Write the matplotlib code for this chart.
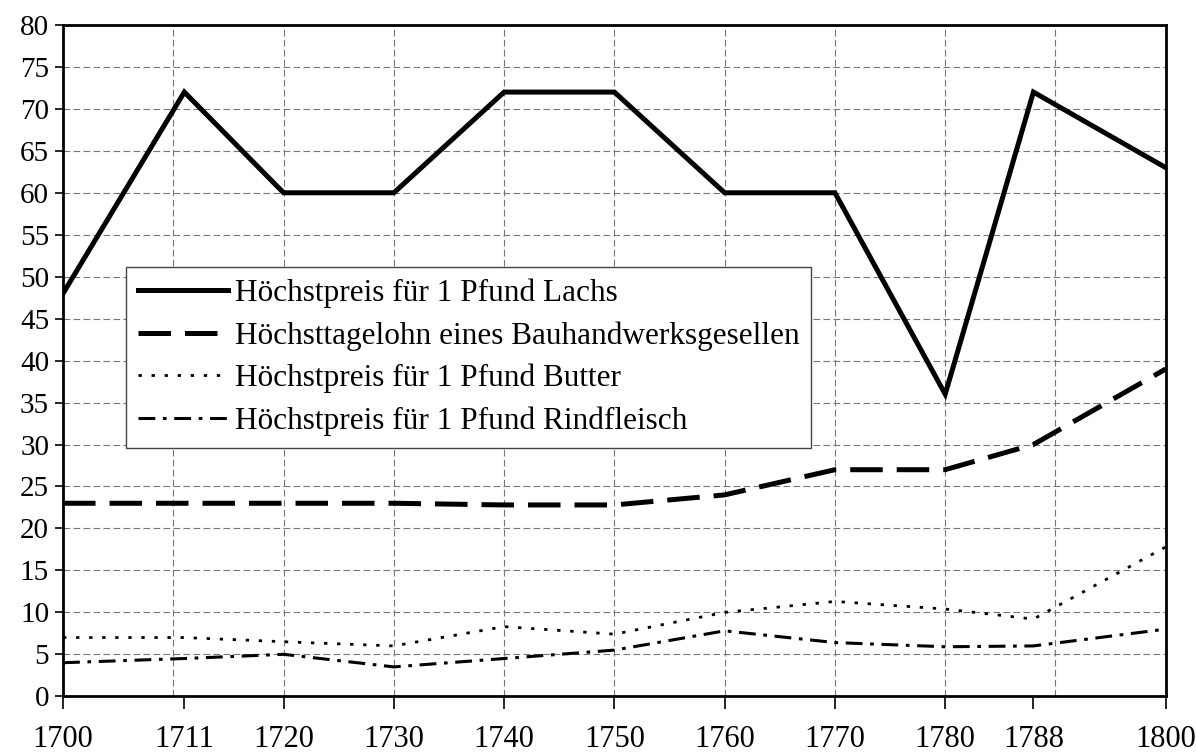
import matplotlib
matplotlib.use("Agg")
import matplotlib.pyplot as plt

plt.rcParams["font.family"] = ["Liberation Serif", "DejaVu Serif"]

years = [1700, 1711, 1720, 1730, 1740, 1750, 1760, 1770, 1780, 1788, 1800]
lachs = [48, 72, 60, 60, 72, 72, 60, 60, 36, 72, 63]
geselle = [23, 23, 23, 23, 22.8, 22.8, 24, 27, 27, 30, 39]
butter = [7, 7, 6.5, 6, 8.3, 7.4, 10, 11.3, 10.4, 9.2, 17.8]
rindfleisch = [4, 4.5, 5, 3.5, 4.5, 5.5, 7.8, 6.4, 5.9, 6, 8]
grid_years = list(range(1710, 1800, 10))

labels = [
    "Höchstpreis für 1 Pfund Lachs",
    "Höchsttagelohn eines Bauhandwerksgesellen",
    "Höchstpreis für 1 Pfund Butter",
    "Höchstpreis für 1 Pfund Rindfleisch",
]

fig = plt.figure(figsize=(11.96, 7.56), dpi=100)
ax = fig.add_axes([0.0527, 0.079, 0.922, 0.888])

ax.plot(years, lachs, color="black", lw=3.6, solid_joinstyle="miter", label=labels[0], zorder=3)
ax.plot(years, geselle, color="black", lw=3.6, dashes=(6.5, 2.8), label=labels[1], zorder=3)
ax.plot(years, butter, color="black", lw=2.0, dashes=(1.2, 3.5), label=labels[2], zorder=3)
ax.plot(years, rindfleisch, color="black", lw=2.2, dashes=(5.5, 2.5, 1.2, 2.5), label=labels[3], zorder=3)

ax.set_xlim(1700, 1800)
ax.set_ylim(0, 80)
ax.set_yticks(range(0, 81, 5))
ax.set_xticks(years)

ax.grid(True, which="major", axis="y", color="#777777", lw=0.8, ls=(0, (6, 3)))
for g in grid_years:
    ax.axvline(g, color="#777777", lw=0.8, ls=(0, (6, 3)), zorder=1)
ax.tick_params(axis="both", which="major", direction="out", width=1.2, colors="black")
ax.tick_params(axis="x", labelsize=22, length=9, pad=12)
ax.tick_params(axis="y", labelsize=21, length=6, pad=4)

for s in ax.spines.values():
    s.set_linewidth(2)
    s.set_color("black")

leg = ax.legend(loc="upper left", bbox_to_anchor=(0.057, 0.64), fontsize=22.5,
                handlelength=2.9, handletextpad=0.2, labelspacing=0.42,
                borderpad=0.38, borderaxespad=0, fancybox=False, framealpha=1,
                edgecolor="#444444")
leg.get_frame().set_linewidth(1.0)

fig.savefig("out.png", dpi=100)
